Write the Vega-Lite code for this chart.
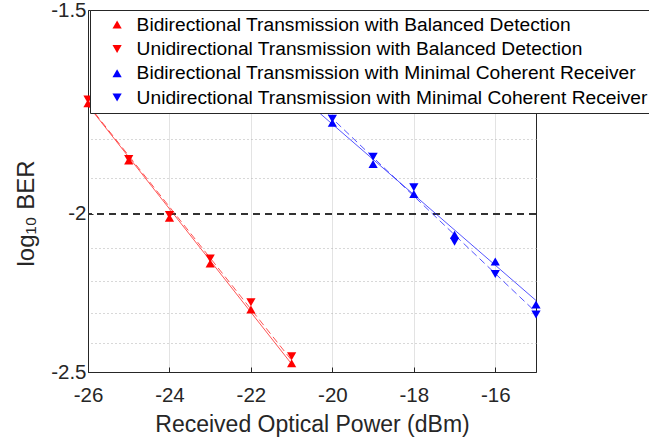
{
  "$schema": "https://vega.github.io/schema/vega-lite/v6.json",
  "width": 448,
  "height": 362,
  "autosize": "none",
  "padding": {"left": 88, "top": 10, "right": 113, "bottom": 69},
  "background": "white",
  "config": {
    "font": "Liberation Sans",
    "view": {"stroke": "#262626", "strokeWidth": 1},
    "axis": {
      "labelFont": "Liberation Sans",
      "titleFont": "Liberation Sans",
      "labelFontSize": 20.5,
      "titleFontSize": 23,
      "titleFontWeight": "normal",
      "labelColor": "#262626",
      "titleColor": "#262626",
      "domainColor": "#262626",
      "tickColor": "#262626",
      "tickSize": -5,
      "labelFlush": false,
      "labelOverlap": false
    },
    "legend": {
      "orient": "none",
      "legendX": 2,
      "legendY": 0,
      "fillColor": "white",
      "strokeColor": "#262626",
      "padding": 5,
      "labelFont": "Liberation Sans",
      "labelFontSize": 19.2,
      "labelColor": "#000000",
      "labelLimit": 700,
      "symbolSize": 85,
      "symbolOffset": 12.5,
      "labelOffset": 9.9,
      "rowPadding": 4.3,
      "symbolStrokeWidth": 0
    }
  },
  "datasets": {
    "pts": [
      {"power": -26, "series": "Bidirectional Transmission with Balanced Detection", "logBER": -1.711},
      {"power": -25, "series": "Bidirectional Transmission with Balanced Detection", "logBER": -1.855},
      {"power": -24, "series": "Bidirectional Transmission with Balanced Detection", "logBER": -2.011},
      {"power": -23, "series": "Bidirectional Transmission with Balanced Detection", "logBER": -2.145},
      {"power": -22, "series": "Bidirectional Transmission with Balanced Detection", "logBER": -2.289},
      {"power": -21, "series": "Bidirectional Transmission with Balanced Detection", "logBER": -2.469},
      {"power": -26, "series": "Unidirectional Transmission with Balanced Detection", "logBER": -1.702},
      {"power": -25, "series": "Unidirectional Transmission with Balanced Detection", "logBER": -1.851},
      {"power": -24, "series": "Unidirectional Transmission with Balanced Detection", "logBER": -2.003},
      {"power": -23, "series": "Unidirectional Transmission with Balanced Detection", "logBER": -2.130},
      {"power": -22, "series": "Unidirectional Transmission with Balanced Detection", "logBER": -2.266},
      {"power": -21, "series": "Unidirectional Transmission with Balanced Detection", "logBER": -2.445},
      {"power": -20, "series": "Bidirectional Transmission with Minimal Coherent Receiver", "logBER": -1.759},
      {"power": -19, "series": "Bidirectional Transmission with Minimal Coherent Receiver", "logBER": -1.864},
      {"power": -18, "series": "Bidirectional Transmission with Minimal Coherent Receiver", "logBER": -1.945},
      {"power": -17, "series": "Bidirectional Transmission with Minimal Coherent Receiver", "logBER": -2.060},
      {"power": -16, "series": "Bidirectional Transmission with Minimal Coherent Receiver", "logBER": -2.139},
      {"power": -15, "series": "Bidirectional Transmission with Minimal Coherent Receiver", "logBER": -2.273},
      {"power": -20, "series": "Unidirectional Transmission with Minimal Coherent Receiver", "logBER": -1.749},
      {"power": -19, "series": "Unidirectional Transmission with Minimal Coherent Receiver", "logBER": -1.845},
      {"power": -18, "series": "Unidirectional Transmission with Minimal Coherent Receiver", "logBER": -1.926},
      {"power": -17, "series": "Unidirectional Transmission with Minimal Coherent Receiver", "logBER": -2.080},
      {"power": -16, "series": "Unidirectional Transmission with Minimal Coherent Receiver", "logBER": -2.177},
      {"power": -15, "series": "Unidirectional Transmission with Minimal Coherent Receiver", "logBER": -2.305}
    ],
    "fits": [
      {"power": -26, "series": "Bidirectional Transmission with Balanced Detection", "logBER": -1.716},
      {"power": -21, "series": "Bidirectional Transmission with Balanced Detection", "logBER": -2.472},
      {"power": -26, "series": "Unidirectional Transmission with Balanced Detection", "logBER": -1.714},
      {"power": -21, "series": "Unidirectional Transmission with Balanced Detection", "logBER": -2.459},
      {"power": -20.3, "series": "Bidirectional Transmission with Minimal Coherent Receiver", "logBER": -1.736},
      {"power": -15, "series": "Bidirectional Transmission with Minimal Coherent Receiver", "logBER": -2.260},
      {"power": -20.3, "series": "Unidirectional Transmission with Minimal Coherent Receiver", "logBER": -1.720},
      {"power": -15, "series": "Unidirectional Transmission with Minimal Coherent Receiver", "logBER": -2.298}
    ]
  },
  "layer": [
    {
      "data": {"name": "pts"},
      "mark": {"type": "rule", "strokeDash": [7, 5], "color": "#333333", "strokeWidth": 1},
      "encoding": {
        "y": {"datum": -2, "type": "quantitative", "axis": null}
      }
    },
    {
      "data": {"name": "fits"},
      "transform": [{"filter": "datum.series === 'Bidirectional Transmission with Balanced Detection'"}],
      "mark": {"type": "line", "strokeWidth": 0.9, "opacity": 0.75, "color": "#ff0000"},
      "encoding": {
        "x": {"field": "power", "type": "quantitative"},
        "y": {
          "field": "logBER", "type": "quantitative",
          "axis": {
            "orient": "right",
            "values": [-2.4, -2.3, -2.2, -2.1, -1.9, -1.8, -1.7, -1.6],
            "labels": false, "ticks": false, "domain": false, "title": null,
            "grid": true, "gridDash": [1, 3], "gridColor": "#b0b0b0", "gridOpacity": 1
          }
        }
      }
    },
    {
      "data": {"name": "fits"},
      "transform": [{"filter": "datum.series === 'Unidirectional Transmission with Balanced Detection'"}],
      "mark": {"type": "line", "strokeWidth": 0.9, "opacity": 0.75, "color": "#ff0000", "strokeDash": [7, 4]},
      "encoding": {
        "x": {"field": "power", "type": "quantitative"},
        "y": {"field": "logBER", "type": "quantitative", "axis": null}
      }
    },
    {
      "data": {"name": "fits"},
      "transform": [{"filter": "datum.series === 'Bidirectional Transmission with Minimal Coherent Receiver'"}],
      "mark": {"type": "line", "strokeWidth": 0.9, "opacity": 0.75, "color": "#0000ff"},
      "encoding": {
        "x": {"field": "power", "type": "quantitative"},
        "y": {"field": "logBER", "type": "quantitative", "axis": null}
      }
    },
    {
      "data": {"name": "fits"},
      "transform": [{"filter": "datum.series === 'Unidirectional Transmission with Minimal Coherent Receiver'"}],
      "mark": {"type": "line", "strokeWidth": 0.9, "opacity": 0.75, "color": "#0000ff", "strokeDash": [7, 4]},
      "encoding": {
        "x": {"field": "power", "type": "quantitative"},
        "y": {"field": "logBER", "type": "quantitative", "axis": null}
      }
    },
    {
      "data": {"name": "pts"},
      "mark": {"type": "point", "filled": true, "opacity": 1, "size": 85},
      "encoding": {
        "x": {
          "field": "power", "type": "quantitative",
          "scale": {"domain": [-26, -15], "nice": false, "zero": false},
          "axis": {
            "values": [-26, -24, -22, -20, -18, -16],
            "labelExpr": "replace(datum.label, '−', '-')",
            "title": "Received Optical Power (dBm)",
            "grid": true, "gridColor": "#e3e3e3", "gridOpacity": 1,
            "labelPadding": 18, "titlePadding": 8
          }
        },
        "y": {
          "field": "logBER", "type": "quantitative",
          "scale": {"type": "log", "domain": [-2.5, -1.5], "nice": false, "zero": false},
          "axis": {
            "orient": "left",
            "values": [-2.5, -2, -1.5],
            "labelExpr": "replace(datum.label, '−', '-')",
            "title": "log₁₀ BER",
            "titleFontSize": 24,
            "titleY": 203,
            "grid": false, "labelPadding": 7, "titlePadding": 12
          }
        },
        "color": {
          "field": "series", "type": "nominal", "title": null,
          "scale": {
            "domain": [
              "Bidirectional Transmission with Balanced Detection",
              "Unidirectional Transmission with Balanced Detection",
              "Bidirectional Transmission with Minimal Coherent Receiver",
              "Unidirectional Transmission with Minimal Coherent Receiver"
            ],
            "range": ["#ff0000", "#ff0000", "#0000ff", "#0000ff"]
          }
        },
        "shape": {
          "field": "series", "type": "nominal", "title": null,
          "scale": {
            "domain": [
              "Bidirectional Transmission with Balanced Detection",
              "Unidirectional Transmission with Balanced Detection",
              "Bidirectional Transmission with Minimal Coherent Receiver",
              "Unidirectional Transmission with Minimal Coherent Receiver"
            ],
            "range": ["triangle-up", "triangle-down", "triangle-up", "triangle-down"]
          }
        }
      }
    }
  ],
  "resolve": {
    "axis": {"y": "independent"}
  }
}
